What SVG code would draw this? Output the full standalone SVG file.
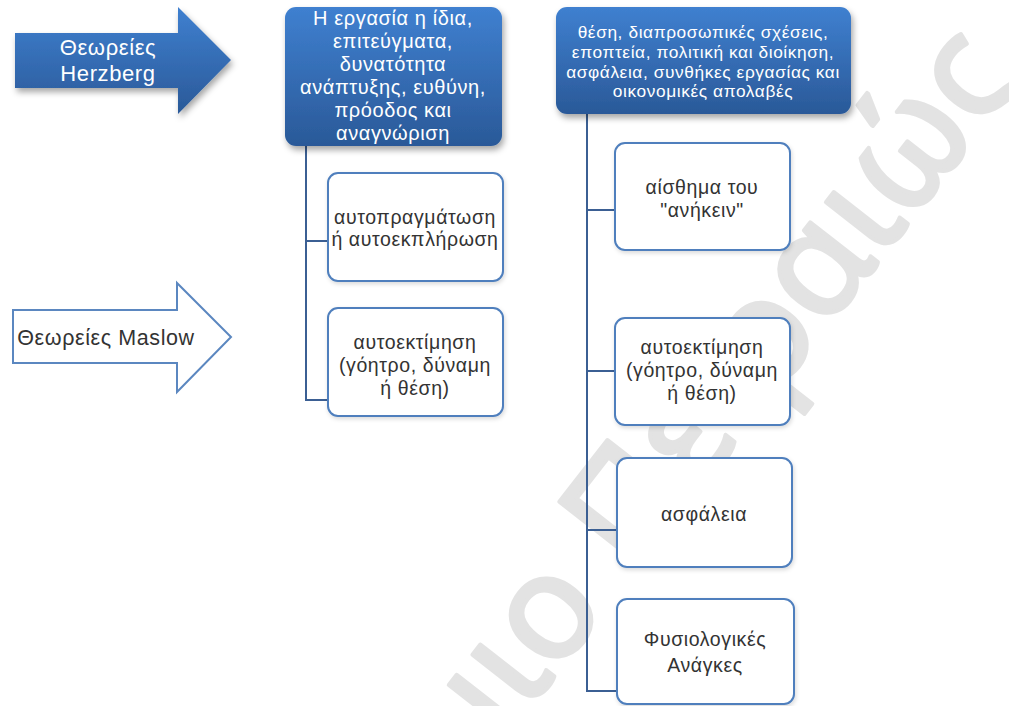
<svg xmlns="http://www.w3.org/2000/svg" width="1009" height="706" viewBox="0 0 1009 706">
<defs>
<linearGradient id="blueGrad" x1="0" y1="0" x2="0" y2="1">
<stop offset="0" stop-color="#3f80d0"/>
<stop offset="1" stop-color="#2a5998"/>
</linearGradient>
<filter id="shadow" x="-20%" y="-20%" width="140%" height="150%">
<feDropShadow dx="2" dy="4" stdDeviation="3" flood-color="#000" flood-opacity="0.35"/>
</filter>
<filter id="softShadow" x="-20%" y="-20%" width="140%" height="150%">
<feDropShadow dx="1" dy="2" stdDeviation="2" flood-color="#000" flood-opacity="0.15"/>
</filter>
</defs>
<style>
.filled { fill: url(#blueGrad); filter: url(#shadow); }
.box { fill: #ffffff; stroke: #4f7fbd; stroke-width: 2; filter: url(#softShadow); }
.outline { fill: #ffffff; stroke: #5b87c0; stroke-width: 2; }
.wt { fill: #ffffff; font-family: "Liberation Sans", Arial, sans-serif; text-anchor: middle; letter-spacing: 0.6px; }
.dt { fill: #333333; font-family: "Liberation Sans", Arial, sans-serif; text-anchor: middle; letter-spacing: 0.6px; }
.bt { font-size: 19.5px; }
.conn { fill: none; stroke: #3b5f93; stroke-width: 2; }
.wm { fill: #e3e3e3; stroke: #e3e3e3; stroke-width: 4; stroke-linejoin: round; font-family: "Noto Sans", "Open Sans", sans-serif; }
</style>
<rect x="0" y="0" width="1009" height="706" fill="#ffffff"/>
<g id="watermark">
<text class="wm" font-size="146" transform="translate(1024,76) rotate(-52)" text-anchor="end">Πανεπιστήμιο Πειραιώς</text>
</g>
<g id="connectors">
<path class="conn" d="M306,146 V400 H328 M306,241 H328"/>
<path class="conn" d="M587,114 V691 H617 M587,210 H615 M587,371 H615 M587,530 H617"/>
</g>
<g id="herzberg">
<path class="filled" d="M15,33 H178 V7 L231,60 L178,114 V88 H15 Z"/>
<text class="wt" font-size="22"><tspan x="108" y="55">Θεωρείες</tspan><tspan x="108" y="81">Herzberg</tspan></text>
</g>
<g id="maslow">
<path class="outline" d="M13,310 H177 V283 L231,337 L177,392 V363 H13 Z"/>
<text class="dt" font-size="21.5" x="106" y="345">Θεωρείες Maslow</text>
</g>
<g id="herzberg-factors">
<rect class="filled" x="285" y="7" width="217" height="139" rx="11"/>
<text class="wt" font-size="20"><tspan x="393" y="25">Η εργασία η ίδια,</tspan><tspan x="393" y="48">επιτεύγματα,</tspan><tspan x="393" y="71">δυνατότητα</tspan><tspan x="393" y="94">ανάπτυξης, ευθύνη,</tspan><tspan x="393" y="117">πρόοδος και</tspan><tspan x="393" y="140">αναγνώριση</tspan></text>
</g>
<g id="self-actualization">
<rect class="box" x="328" y="173" width="175" height="108" rx="10"/>
<text class="dt bt"><tspan x="415" y="224">αυτοπραγμάτωση</tspan><tspan x="415" y="246">ή αυτοεκπλήρωση</tspan></text>
</g>
<g id="esteem-left">
<rect class="box" x="328" y="308" width="175" height="108" rx="10"/>
<text class="dt bt"><tspan x="415" y="349">αυτοεκτίμηση</tspan><tspan x="415" y="372">(γόητρο, δύναμη</tspan><tspan x="415" y="395">ή θέση)</tspan></text>
</g>
<g id="hygiene-factors">
<rect class="filled" x="556" y="7" width="295" height="107" rx="11"/>
<text class="wt" font-size="17.3"><tspan x="703" y="38">θέση, διαπροσωπικές σχέσεις,</tspan><tspan x="703" y="58">εποπτεία, πολιτική και διοίκηση,</tspan><tspan x="703" y="78">ασφάλεια, συνθήκες εργασίας και</tspan><tspan x="703" y="97">οικονομικές απολαβές</tspan></text>
</g>
<g id="belonging">
<rect class="box" x="615" y="143" width="175" height="107" rx="10"/>
<text class="dt bt"><tspan x="702" y="194">αίσθημα του</tspan><tspan x="702" y="217">"ανήκειν"</tspan></text>
</g>
<g id="esteem-right">
<rect class="box" x="615" y="318" width="175" height="107" rx="10"/>
<text class="dt bt"><tspan x="702" y="354">αυτοεκτίμηση</tspan><tspan x="702" y="377">(γόητρο, δύναμη</tspan><tspan x="702" y="400">ή θέση)</tspan></text>
</g>
<g id="safety">
<rect class="box" x="617" y="458" width="175" height="109" rx="10"/>
<text class="dt bt" x="704" y="521">ασφάλεια</text>
</g>
<g id="physiological">
<rect class="box" x="617" y="599" width="177" height="105" rx="10"/>
<text class="dt bt"><tspan x="705" y="646">Φυσιολογικές</tspan><tspan x="705" y="672">Ανάγκες</tspan></text>
</g>
</svg>
